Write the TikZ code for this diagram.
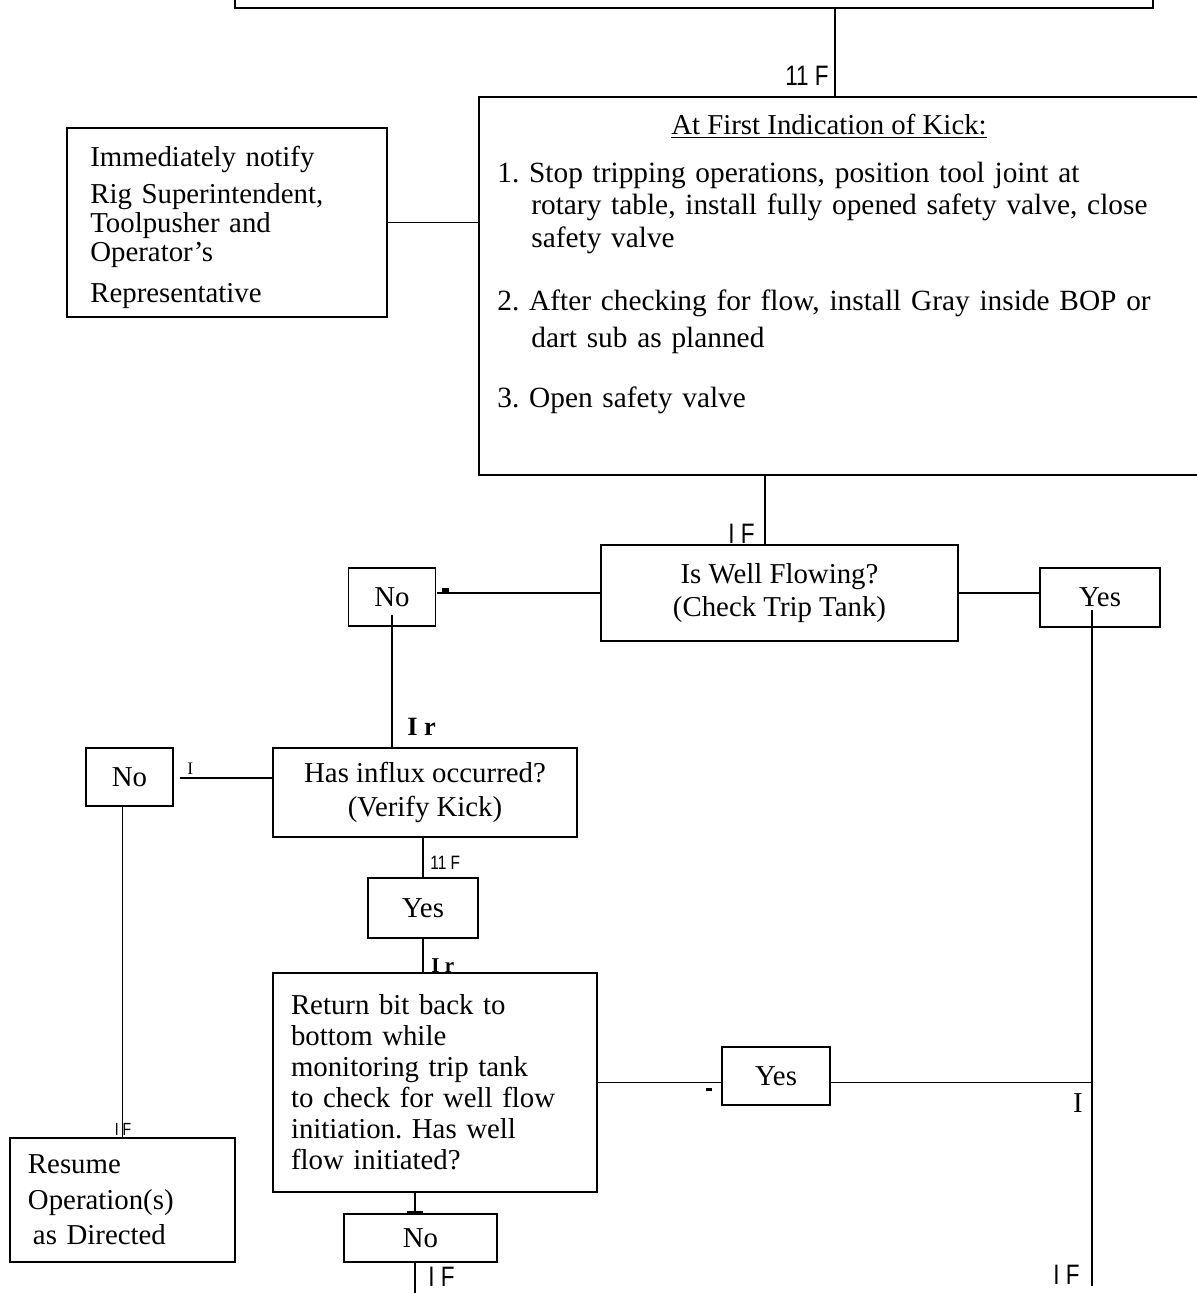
\documentclass[tikz,border=0pt]{standalone}
\usepackage{fontspec}
\setmainfont{Liberation Serif}
\newfontfamily\tagfont[FakeStretch=0.8]{Liberation Sans}
\usetikzlibrary{calc}

\begin{document}
\begin{tikzpicture}[x=0.2mm, y=-0.2mm,
 box/.style={draw, line width=0.9pt, inner sep=0pt, align=center},
 txtbox/.style={box, align=left},
 conn/.style={line width=0.9pt},
 tick/.style={line width=1.8pt},
 tag/.style={inner sep=0pt, font=\tagfont\fontsize{16}{16}\selectfont},
 smalltag/.style={inner sep=0pt, font=\tagfont\fontsize{11}{11}\selectfont},
 rmark/.style={inner sep=0pt, font=\fontsize{15}{15}\selectfont\bfseries},
 font=\fontsize{16.4}{18.5}\selectfont
]
\useasboundingbox (0,0) rectangle (1196,1293);

\node[box, minimum width=183.6mm, minimum height=12mm] (top) at (694,-22) {};
\node[box, minimum width=150mm, minimum height=75.6mm] (kick) at (854,286) {};
\node[anchor=base, inner sep=0pt] (kickhead) at (829,134) {\underline{At First Indication of Kick:}};
\node[anchor=base west, text width=145mm, align=left, inner sep=0pt, font=\fontsize{16.7}{18.5}\selectfont\frenchspacing] (kicksteps) at (497,182) {1. Stop tripping operations, position tool joint at\\
\hspace*{6.8mm}rotary table, install fully opened safety valve, close\\
\hspace*{6.8mm}safety valve\\[17.4pt]
2. After checking for flow, install Gray inside BOP or\\[2.5pt]
\hspace*{6.8mm}dart sub as planned\\[16.2pt]
3. Open safety valve};
\node[box, minimum width=64mm, minimum height=37.8mm] (notify) at (227,222.5) {};
\node[anchor=base west, text width=54.8mm, align=left, inner sep=0pt, font=\fontsize{16.4}{16}\selectfont] (notifytext) at (90,166) {Immediately notify\\[5.6pt]Rig Superintendent,\\Toolpusher and\\[1pt]Operator's\\[6.8pt]Representative};

\node[box, minimum width=71.4mm, minimum height=19.2mm] (well) at (779.5,593) {Is Well Flowing?\\(Check Trip Tank)};
\node[box, minimum width=17.4mm, minimum height=11.6mm] (no1) at (392,597) {No};
\node[box, minimum width=24mm, minimum height=11.8mm] (yes1) at (1100,597.5) {Yes};
\node[box, minimum width=60.8mm, minimum height=17.8mm, font=\fontsize{16.4}{19.4}\selectfont] (influx) at (425,792.5) {Has influx occurred?\\(Verify Kick)};
\node[box, minimum width=17.4mm, minimum height=11.6mm] (no2) at (129.5,777) {No};
\node[txtbox, text width=37.8mm, inner xsep=3.6mm, minimum height=24.8mm, font=\fontsize{16.4}{20.2}\selectfont] (resume) at (122.5,1200) {Resume\\Operation(s)\\\hspace*{1mm}as Directed};
\node[box, minimum width=22mm, minimum height=12mm] (yes2) at (423,908) {Yes};
\node[txtbox, text width=57.6mm, inner xsep=3.6mm, minimum height=43.8mm, font=\fontsize{16.4}{17.6}\selectfont\frenchspacing] (ret) at (435,1082.5) {Return bit back to\\bottom while\\monitoring trip tank\\to check for well flow\\initiation. Has well\\flow initiated?};
\node[box, minimum width=21.6mm, minimum height=11.6mm] (yes3) at (776,1076) {Yes};
\node[box, minimum width=30.6mm, minimum height=9.6mm] (no3) at (420.5,1238) {No};

\coordinate (n1end) at (437,591);
\coordinate (n2end) at (180,778);
\coordinate (yline) at (1092,610);
\coordinate (ybot) at (1092,1286);
\coordinate (n3bot) at (415,1300);

\draw[conn] (top.south) ++(141,0) -- ++(0,89);
\draw[conn] (notify.east) -- (notify.east -| kick.west);
\draw[conn] (well.north) ++(-14.5,0) -- ++(0,-70);
\draw[conn] (well.west) -- (well.west -| n1end);
\draw[tick] ($(n1end)+(5,-1)$) -- ++(7,0);
\draw[conn] ($(no1.south)+(0,-12)$) -- (no1.south |- influx.north);
\draw[conn] (well.east) -- (well.east -| yes1.west);
\draw[conn] (yline) -- (ybot);
\draw[conn] (influx.west |- n2end) -- (n2end);
\draw[conn] (resume.north) -- (resume.north |- no2.south);
\draw[conn] (yes2.north) -- (yes2.north |- influx.south);
\draw[conn] (yes2.south) -- (yes2.south |- ret.north);
\draw[conn] (ret.east) -- (ret.east -| yes3.west);
\draw[tick] ($(ret.east -| yes3.west)+(-15,7)$) -- ++(6,0);
\draw[conn] (yes3.east |- ret.east) -- (ret.east -| yline);
\draw[conn] (ret.south -| n3bot) -- (no3.north -| n3bot);
\draw[tick] ($(no3.north -| n3bot)+(-8,-1)$) -- ++(16,0);
\draw[conn] (no3.south -| n3bot) -- (n3bot);

\node[tag, anchor=base east] (tagtop) at (829,85) {11 F};
\node[tag, anchor=base east] (tagkick) at (755,543) {I F};
\node[rmark, anchor=base west] (markno1) at (407,735) {I r};
\node[anchor=base west, inner sep=0pt, font=\fontsize{10}{10}\selectfont] (markno2) at (187,774) {I};
\node[smalltag, anchor=base west] (taginflux) at (430,869) {11 F};
\node[rmark, anchor=base west, font=\fontsize{12}{12}\selectfont\bfseries] (markyes2) at (431,972) {I r};
\node[smalltag, anchor=base, font=\tagfont\fontsize{10}{10}\selectfont] (tagno2) at (123,1135) {I F};
\node[anchor=base, inner sep=0pt] (markyes3) at (1078,1112) {I};
\node[tag, anchor=base west] (tagno3) at (428,1286) {I F};
\node[tag, anchor=base east] (tagyes1) at (1080,1284) {I F};
\end{tikzpicture}
\end{document}
